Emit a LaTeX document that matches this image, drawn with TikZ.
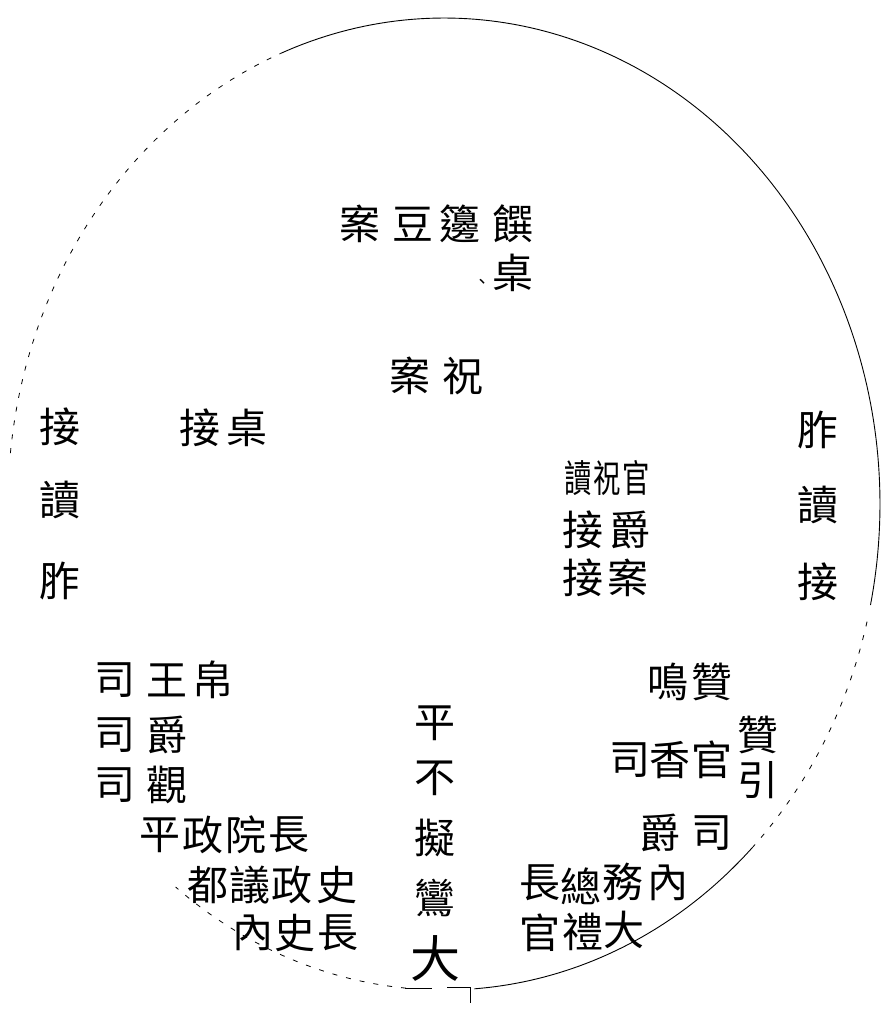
\documentclass[tikz,border=0pt]{standalone}
\usepackage{fontspec}
\newfontfamily\cjk{Noto Sans CJK TC}
\begin{document}
\begin{tikzpicture}[x=1pt,y=-1pt,
  ch/.style={font=\cjk\fontsize{41}{41}\selectfont, inner sep=0pt, outer sep=0pt},
  chs/.style={font=\cjk\fontsize{38}{38}\selectfont, inner sep=0pt, outer sep=0pt, xscale=0.72},
  rim/.style={line width=0.9pt, black},
  rimd/.style={line width=0.8pt, black, dash pattern=on 5pt off 9pt}]
\useasboundingbox (0,0) rectangle (890,1012);
% outer ellipse (drawn as broken arcs, like the scan)
\draw[rim]  plot[domain=112:-12, samples=120] ({444+436*cos(\x)}, {504-486*sin(\x)});
\draw[rimd] plot[domain=174:112, samples=80] ({444+436*cos(\x)}, {504-486*sin(\x)});
\draw[rimd] plot[domain=-14:-45, samples=40] ({444+436*cos(\x)}, {504-486*sin(\x)});
\draw[rim]  plot[domain=-45:-86, samples=60] ({444+436*cos(\x)}, {504-486*sin(\x)});
\draw[rimd] plot[domain=-95:-128, samples=50] ({444+436*cos(\x)}, {504-486*sin(\x)});
% small mark at the bottom
\coordinate (m1) at (405,988); \coordinate (m2) at (432,988);
\coordinate (m3) at (447,987); \coordinate (m4) at (470,987); \coordinate (m5) at (470,1003);
\draw[line width=1pt] (m1) -- (m2);
\draw[line width=1pt] (m3) -- (m4) -- (m5);

% top: tables
\node[ch] (t1) at (360,224) {案};
\node[ch] (t2) at (413,224) {豆};
\node[ch] (t3) at (460,224) {籩};
\node[ch] (t4) at (513,224) {饌};
\node[ch] (t5) at (513,273) {桌};
\node[font=\cjk\fontsize{18}{18}\selectfont, inner sep=0pt] (t6) at (482,284) {、};
\node[ch] (z1) at (410,376) {案};
\node[ch] (z2) at (463,376) {祝};

% left column
\node[ch] (l1) at (60,427) {接};
\node[ch] (l2) at (60,500) {讀};
\node[ch] (l3) at (60,581) {胙};
\node[ch] (p1) at (200,428) {接};
\node[ch] (p2) at (247,428) {桌};

% right column
\node[ch] (r1) at (818,430) {胙};
\node[ch] (r2) at (818,505) {讀};
\node[ch] (r3) at (818,582) {接};

% middle-right cluster
\node[chs] (c1) at (578,478) {讀};
\node[chs] (c2) at (607,478) {祝};
\node[chs] (c3) at (636,478) {官};
\node[ch] (c4) at (583,530) {接};
\node[ch] (c5) at (630,530) {爵};
\node[ch] (c6) at (583,578) {接};
\node[ch] (c7) at (628,578) {案};

% bottom-right cluster
\node[ch] (b1) at (668,682) {鳴};
\node[ch] (b2) at (712,682) {贊};
\node[ch] (b3) at (758,735) {贊};
\node[ch] (b4) at (758,780) {引};
\node[ch] (b5) at (630,760) {司};
\node[ch] (b6) at (670,760) {香};
\node[ch] (b7) at (712,760) {官};
\node[ch] (b8) at (660,833) {爵};
\node[ch] (b9) at (712,833) {司};
\node[ch] (g1) at (540,883) {長};
\node[ch] (g2) at (581,886) {總};
\node[ch] (g3) at (623,882) {務};
\node[ch] (g4) at (668,883) {內};
\node[ch] (h1) at (540,933) {官};
\node[ch] (h2) at (583,932) {禮};
\node[ch] (h3) at (624,930) {大};

% middle-bottom column
\node[ch] (v1) at (435,723) {平};
\node[ch] (v2) at (435,778) {不};
\node[ch] (v3) at (435,838) {擬};
\node[ch] (v4) at (435,898) {鸞};
\node[font=\cjk\fontsize{50}{50}\selectfont, inner sep=0pt] (v5) at (435,958) {大};

% bottom-left cluster
\node[ch] (k1) at (115,680) {司};
\node[ch] (k2) at (115,735) {司};
\node[ch] (k3) at (115,785) {司};
\node[ch] (k4) at (167,680) {王};
\node[ch] (k5) at (167,735) {爵};
\node[ch] (k6) at (167,785) {觀};
\node[ch] (k7) at (213,680) {帛};
\node[ch] (w1) at (160,835) {平};
\node[ch] (w2) at (203,835) {政};
\node[ch] (w3) at (246,835) {院};
\node[ch] (w4) at (289,835) {長};
\node[ch] (w5) at (208,885) {都};
\node[ch] (w6) at (250,885) {議};
\node[ch] (w7) at (292,885) {政};
\node[ch] (w8) at (337,885) {史};
\node[ch] (w9) at (253,933) {內};
\node[ch] (w10) at (295,933) {史};
\node[ch] (w11) at (338,933) {長};
\end{tikzpicture}
\end{document}
